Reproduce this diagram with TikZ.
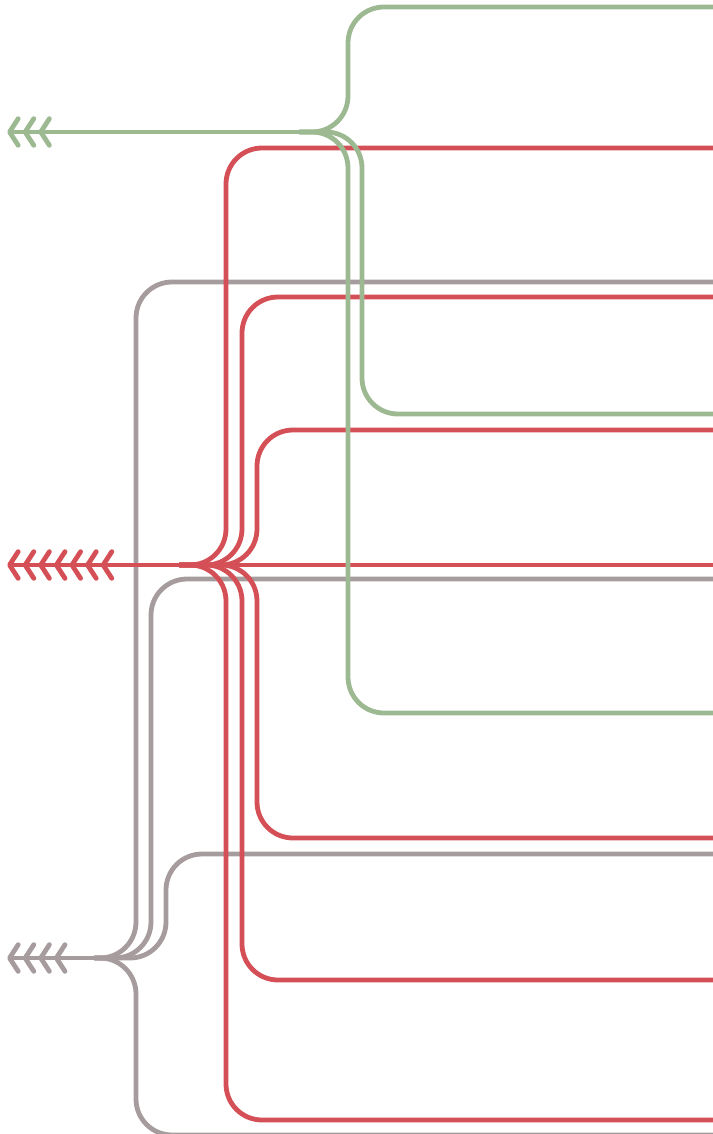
\documentclass[tikz,border=0pt]{standalone}
\usetikzlibrary{arrows.meta}
\definecolor{cgreen}{RGB}{157,185,146}
\definecolor{cred}{RGB}{213,80,86}
\definecolor{cgray}{RGB}{166,155,157}
\tikzset{
  chev/.tip={Straight Barb[length=6.5pt,width=20pt,round,sep=1.6pt]},
  wire/.style={line width=3.6pt, rounded corners=27pt, line cap=round},
  gline/.style={wire, draw=cgreen},
  rline/.style={wire, draw=cred},
  yline/.style={wire, draw=cgray},
}
\begin{document}
\begin{tikzpicture}[x=0.75pt,y=-0.75pt]
\useasboundingbox (0,0) rectangle (713,1134);
% hubs and tips
\coordinate (gh) at (300,132);
\coordinate (gt) at (5,132);
\coordinate (rh) at (180,565);
\coordinate (rt) at (5,565);
\coordinate (yh) at (95,958);
\coordinate (yt) at (5,958);
% right ends
\coordinate (g1) at (714,7);
\coordinate (g2) at (714,414);
\coordinate (g3) at (714,713);
\coordinate (r1) at (714,148);
\coordinate (r2) at (714,297);
\coordinate (r3) at (714,430);
\coordinate (r4) at (714,565);
\coordinate (r5) at (714,838);
\coordinate (r6) at (714,980);
\coordinate (r7) at (714,1120);
\coordinate (y1) at (714,282);
\coordinate (y2) at (714,579);
\coordinate (y3) at (714,854);
\coordinate (y4) at (714,1135);
% gray
\draw[yline] (y1) -| (136,958) -- (yh);
\draw[yline] (y2) -| (151,958) -- (yh);
\draw[yline] (y3) -| (166,958) -- (yh);
\draw[yline] (y4) -| (136,958) -- (yh);
\draw[yline, -{chev[]chev[]chev[]chev[]}] (yh) -- (yt);
% red
\draw[rline] (r1) -| (226,565) -- (rh);
\draw[rline] (r2) -| (242,565) -- (rh);
\draw[rline] (r3) -| (257,565) -- (rh);
\draw[rline] (r4) -- (rh);
\draw[rline] (r5) -| (257,565) -- (rh);
\draw[rline] (r6) -| (242,565) -- (rh);
\draw[rline] (r7) -| (226,565) -- (rh);
\draw[rline, -{chev[]chev[]chev[]chev[]chev[]chev[]chev[]}] (rh) -- (rt);
% green
\draw[gline] (g1) -| (348,132) -- (gh);
\draw[gline] (g2) -| (362,132) -- (gh);
\draw[gline] (g3) -| (348,132) -- (gh);
\draw[gline, -{chev[]chev[]chev[]}] (gh) -- (gt);
\end{tikzpicture}
\end{document}
